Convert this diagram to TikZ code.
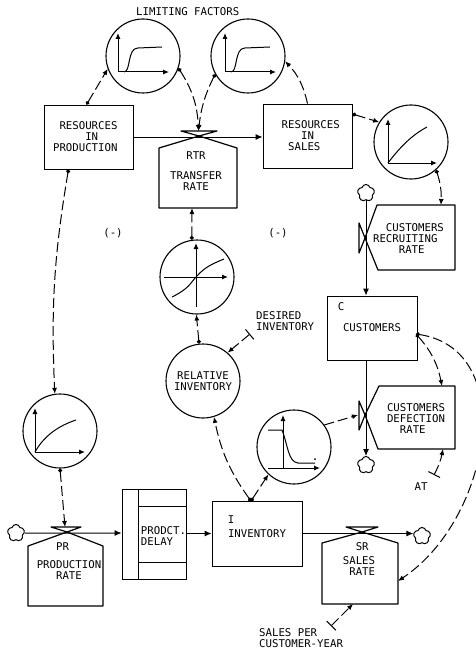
\documentclass[tikz,border=0pt]{standalone}
\usepackage{fontspec}
\setmonofont{DejaVu Sans Mono}
\usetikzlibrary{arrows.meta,shapes.symbols}
\tikzset{
  lbl/.style={align=left,inner sep=0pt,font=\fontsize{10.7}{11}\selectfont\ttfamily},
  stock/.style={lbl,draw,line width=.8pt,minimum width=89pt,minimum height=64pt},
  tablefn/.style={lbl,align=center,draw,circle,line width=1.1pt,minimum size=74pt},
  rate/.style={line width=1.2pt,line join=round},
  sink/.style={draw,cloud,cloud puffs=5,aspect=1,line width=1pt,inner sep=0pt,minimum size=17pt},
  flow/.style={-{Latex[length=7pt,width=6pt]},line width=1pt},
  info/.style={{Circle[length=4pt]}-{Latex[length=6pt,width=5pt]},line width=1pt,dash pattern=on 10pt off 4pt},
  infoplain/.style={-{Latex[length=6pt,width=5pt]},line width=1pt,dash pattern=on 10pt off 4pt},
  param/.style={{Bar[width=13pt,line width=1pt]}-{Latex[length=6pt,width=5pt]},line width=1pt,dash pattern=on 10pt off 4pt},
  axis/.style={-{Latex[length=6pt,width=5pt]},line width=1pt},
  curve/.style={line width=1pt}
}
\begin{document}
\begin{tikzpicture}[x=1pt,y=-1pt]
\useasboundingbox (0,0) rectangle (476,650);
% levels
\node[stock] (rp) at (88.5,137) {\phantom{I}RESOURCES\\\phantom{IIIII}IN\\PRODUCTION\phantom{I}};
\node[stock] (rs) at (307.5,136) {\phantom{I}RESOURCES\\\phantom{IIII}IN\\\phantom{II}SALES};
\node[stock,minimum width=90pt] (customers) at (372,328) {CUSTOMERS};
\node[lbl] (ctag) at (341,307) {C};
\node[stock,minimum width=90pt,minimum height=65pt] (inv) at (257,533.5) {INVENTORY};
\node[lbl] (itag) at (231,520) {I};
\node[draw,line width=.8pt,minimum width=64pt,minimum height=90pt] (delay) at (154,534) {};
\draw[line width=.8pt] (138,489)--(138,579) (138,506)--(186,506) (138,562)--(186,562);
\node[lbl] (dtxt) at (163.5,536) {PRODCT.\\DELAY\phantom{II}};
% table functions
\node[tablefn] (lf1) at (143,56) {};
\node[tablefn] (lf2) at (248,56) {};
\node[tablefn] (rc) at (411,142) {};
\node[tablefn] (sc) at (197,277) {};
\node[tablefn] (relinv) at (203,381) {RELATIVE\\INVENTORY};
\node[tablefn] (pc) at (60,431) {};
\node[tablefn] (tc) at (294,447) {};
\draw[axis] (118,72)--(118,33); \draw[axis] (118,72)--(169,72);
\draw[curve] (124,72) .. controls (131,72) and (127,48) .. (138,48) -- (162,47);
\draw[axis] (225,72)--(225,33); \draw[axis] (225,72)--(276,72);
\draw[curve] (231,72) .. controls (238,72) and (234,48) .. (245,48) -- (270,47);
\draw[axis] (388,163)--(388,119); \draw[axis] (388,163)--(437,163);
\draw[curve] (388,163) .. controls (400,147) and (412,135) .. (427,127);
\draw[axis] (196,307)--(196,243); \draw[axis] (164,277)--(228,277);
\draw[curve] (172,297) .. controls (190,288) and (190,283) .. (197,276) .. controls (205,267) and (212,264) .. (224,259);
\draw[axis] (35,452)--(35,408); \draw[axis] (35,452)--(85,452);
\draw[curve] (35,452) .. controls (44,436) and (58,426) .. (76,420);
\draw[axis] (283,468)--(283,415); \draw[axis] (268,468)--(320,468);
\draw[curve] (268,430)--(282,430) .. controls (288,445) and (288,462) .. (298,463) -- (315,463);
\fill (315,459) circle (1pt);
% rates
\coordinate (rtrv) at (199,136); \coordinate (prv) at (67,532);
\coordinate (srv) at (362,532); \coordinate (crv) at (365,238); \coordinate (drv) at (365,415);
\draw[rate] (rtrv)--(237,148)--(237,208)--(159,208)--(159,148)--cycle;
\draw[rate] (181,131)--(217,131)--(rtrv)--cycle;
\node[lbl,align=center] (rtr) at (196,171) {RTR\\[9pt]TRANSFER\\RATE};
\draw[rate] (prv)--(103,546)--(103,606)--(28,606)--(28,546)--cycle;
\draw[rate] (51,527)--(81,527)--(prv)--cycle;
\node[lbl] (pr) at (69,561.5) {\phantom{III}PR\\[7pt]PRODUCTION\\\phantom{III}RATE};
\draw[rate] (srv)--(398,543)--(398,604)--(322,604)--(322,543)--cycle;
\draw[rate] (346,527)--(378,527)--(srv)--cycle;
\node[lbl] (sr) at (359,559.5) {\phantom{II}SR\\[3pt]SALES\\\phantom{I}RATE};
\draw[rate] (crv)--(377,205)--(455,205)--(455,270)--(378,270)--cycle;
\draw[rate] (359,223)--(359,253)--(crv)--cycle;
\node[lbl] (cr) at (408.5,238.5) {\phantom{II}CUSTOMERS\\RECRUITING\phantom{I}\\\phantom{IIII}RATE};
\draw[rate] (drv)--(379,386)--(455,386)--(455,449)--(378,449)--cycle;
\draw[rate] (359,401)--(359,430)--(drv)--cycle;
\node[lbl] (dr) at (416,418.5) {CUSTOMERS\\DEFECTION\\\phantom{II}RATE};
% sources and sinks
\node[sink] (cl1) at (16,533) {};
\node[sink] (cl2) at (366,193) {};
\node[sink] (cl3) at (366,465) {};
\node[sink] (cl4) at (422,536) {};
% material flows
\draw[flow] (rp.east)--(rp.east-|rs.west);
\draw[flow] (cl1)--(cl1-|delay.west);
\draw[flow] (delay.east|-inv)--(inv.west);
\draw[flow] (inv.east)--(inv.east-|cl4.west);
\draw[flow] (cl2)--(cl2|-customers.north);
\draw[flow] (cl3|-customers.south)--(cl3);
% parameters
\coordinate (rtrtop) at (198.5,131); \coordinate (rtrbot) at (192,208);
\coordinate (prtop) at (65,527); \coordinate (crtop) at (441,205);
\coordinate (drtop) at (442,386); \coordinate (drbot) at (443,449);
\coordinate (drleft) at (358,415); \coordinate (srside) at (398,581); \coordinate (srbot) at (353,604);
\coordinate (cdot) at (416,334); \coordinate (idot) at (251,501);
\coordinate (desired) at (250,334); \coordinate (at) at (434,475); \coordinate (spc) at (331,626);
% information links
\draw[info] ([xshift=-2pt]rp.north)--(lf1.200);
\draw[info] (lf1.-19) to[bend left=15] (rtrtop);
\draw[info] (lf2.209) to[bend right=10] (rtrtop);
\draw[infoplain] (rs.north) to[bend right=15] (lf2.-8);
\draw[info] ([yshift=22pt]rs.east)--(rc.148);
\draw[info] (rc.-48) to[bend left=10] (crtop);
\draw[info] (sc.98)--(rtrbot);
\draw[info] (relinv.96)--(sc.-91);
\draw[info] (idot) to[bend left=12] (relinv.-73);
\draw[info] (idot)--(tc.227);
\draw[infoplain] (tc.36)--(drleft);
\draw[info] ([xshift=-20pt]rp.south) to[bend right=6] (pc.98);
\draw[info] (pc.-90)--(prtop);
\draw[info] (cdot) to[bend left=15] (drtop);
\draw[info] (cdot) .. controls (520,350) and (490,520) .. (srside);
\draw[param] (desired)--(relinv.49);
\draw[param] (at) to[bend right=8] (drbot);
\draw[param] (spc)--(srbot);
% texts
\node[lbl,anchor=west] (lim) at (136,12) {LIMITING FACTORS};
\node[lbl,anchor=west] (dinv) at (256,321.5) {DESIRED\\INVENTORY};
\node[lbl] (attxt) at (421,487) {AT};
\node[lbl,anchor=west] (spctxt) at (259,638) {SALES PER\\CUSTOMER-YEAR};
\node[lbl] (neg1) at (113,233) {(-)};
\node[lbl] (neg2) at (278,233) {(-)};
\end{tikzpicture}
\end{document}
